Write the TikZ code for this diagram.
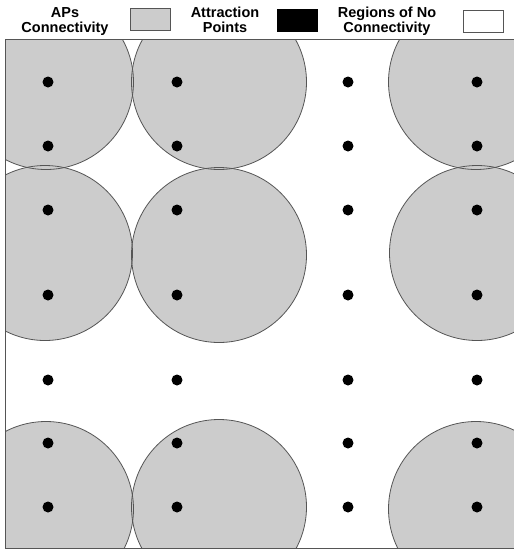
\documentclass[tikz,border=0pt]{standalone}
\usepackage{fontspec}
\setmainfont{Liberation Sans}
\definecolor{apgray}{RGB}{204,204,204}
\definecolor{edgegray}{RGB}{85,85,85}
\begin{document}
\begin{tikzpicture}[x=1pt,y=-1pt,
  legtext/.style={font=\fontsize{14.5}{15.5}\selectfont\bfseries, anchor=base, inner sep=0pt},
  apdot/.style={circle, fill=black, inner sep=0pt, minimum size=11pt},
  legbox/.style={draw=edgegray, line width=0.9pt, minimum width=40pt, minimum height=22pt, inner sep=0pt}]
\useasboundingbox (0,0) rectangle (514,550);
% legend
\node[legtext] (l1a) at (65,17) {APs};
\node[legtext] (l1b) at (65,32) {Connectivity};
\node[legbox, fill=apgray] (b1) at (150,19) {};
\node[legtext] (l2a) at (225,17) {Attraction};
\node[legtext] (l2b) at (225,32) {Points};
\node[legbox, fill=black, draw=black] (b2) at (297,20) {};
\node[legtext] (l3a) at (387,17) {Regions of No};
\node[legtext] (l3b) at (387,32) {Connectivity};
\node[legbox, fill=white] (b3) at (483,21) {};
% coverage circles
\begin{scope}
\clip (5,39) rectangle (514,548);
\foreach \p in {(46,82),(219,82),(476,82),(45,253),(219,255),(477,253),(46,509),(219,507),(476,509)}
  \fill[apgray] \p circle (87.5);
\foreach \p in {(46,82),(219,82),(476,82),(45,253),(219,255),(477,253),(46,509),(219,507),(476,509)}
  \draw[edgegray, line width=0.8pt] \p circle (87.5);
\end{scope}
% frame
\draw[edgegray, line width=1pt] (514,39) -- (5,39) -- (5,548) -- (514,548);
% attraction points
\foreach \y [count=\j] in {82,146,210,295,380,443,507}
  \foreach \x [count=\i] in {48,177,348,477}
    \node[apdot] (d\i\j) at (\x,\y) {};
\end{tikzpicture}
\end{document}
